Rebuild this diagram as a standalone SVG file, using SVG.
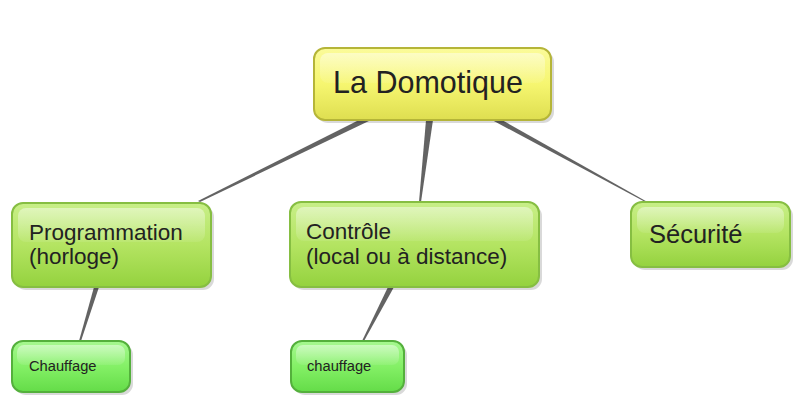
<svg xmlns="http://www.w3.org/2000/svg" width="800" height="408" viewBox="0 0 800 408">
<defs>
<linearGradient id="gy" x1="0" y1="0" x2="0" y2="1"><stop offset="0" stop-color="#fbfb9a"/><stop offset="0.5" stop-color="#f6f670"/><stop offset="1" stop-color="#dede50"/></linearGradient>
<linearGradient id="gg" x1="0" y1="0" x2="0" y2="1"><stop offset="0" stop-color="#c8ef88"/><stop offset="0.5" stop-color="#b4e462"/><stop offset="1" stop-color="#94d23e"/></linearGradient>
<linearGradient id="gb" x1="0" y1="0" x2="0" y2="1"><stop offset="0" stop-color="#a6f890"/><stop offset="0.5" stop-color="#84f066"/><stop offset="1" stop-color="#64dc48"/></linearGradient>
<linearGradient id="hl" x1="0" y1="0" x2="0" y2="1"><stop offset="0" stop-color="#fff" stop-opacity="0.45"/><stop offset="1" stop-color="#fff" stop-opacity="0.08"/></linearGradient>
</defs>
<style>
.sh{fill:#000;opacity:0.15}
.r{fill:url(#gy);stroke:#b5b538;stroke-width:2}
.g{fill:url(#gg);stroke:#86be42;stroke-width:2}
.b{fill:url(#gb);stroke:#54b03c;stroke-width:2}
.h{fill:url(#hl)}
.c{fill:#636363}
text{font-family:"Liberation Sans",Arial,sans-serif;fill:#222}
.t1{font-size:22.5px}
.t2{font-size:14.7px}
</style>
<g id="connectors">
<polygon class="c" points="359,120 371,120 200,202 198,201"/>
<polygon class="c" points="426,120 433,120 421,202 419,202"/>
<polygon class="c" points="492,120 502,120 651,204 649,204"/>
<polygon class="c" points="94,287 99,287 81,341 79,341"/>
<polygon class="c" points="388,287 394,287 364,341 362,341"/>
</g>
<g id="root">
<rect class="sh" x="317" y="51" width="237" height="72" rx="11"/>
<rect class="r" x="314" y="48" width="237" height="72" rx="11"/>
<rect class="h" x="320" y="53" width="225" height="30" rx="8"/>
<text x="428" y="93" font-size="30.5" text-anchor="middle">La Domotique</text>
</g>
<g id="programmation">
<rect class="sh" x="15" y="206" width="199" height="84" rx="11"/>
<rect class="g" x="12" y="203" width="199" height="84" rx="11"/>
<rect class="h" x="18" y="208" width="187" height="34" rx="8"/>
<text class="t1" x="29" y="239.5">Programmation</text>
<text class="t1" x="29" y="264">(horloge)</text>
</g>
<g id="controle">
<rect class="sh" x="293" y="205" width="249" height="85" rx="11"/>
<rect class="g" x="290" y="202" width="249" height="85" rx="11"/>
<rect class="h" x="296" y="207" width="237" height="34" rx="8"/>
<text class="t1" x="306" y="239">Contrôle</text>
<text class="t1" x="306" y="264">(local ou à distance)</text>
</g>
<g id="securite">
<rect class="sh" x="634" y="205" width="159" height="65" rx="11"/>
<rect class="g" x="631" y="202" width="159" height="65" rx="11"/>
<rect class="h" x="637" y="207" width="147" height="26" rx="8"/>
<text x="649" y="243" font-size="25.5">Sécurité</text>
</g>
<g id="chauffage1">
<rect class="sh" x="15" y="344" width="118" height="51" rx="11"/>
<rect class="b" x="12" y="341" width="118" height="51" rx="11"/>
<rect class="h" x="17" y="345" width="108" height="20" rx="7"/>
<text class="t2" x="29" y="371">Chauffage</text>
</g>
<g id="chauffage2">
<rect class="sh" x="294" y="344" width="113" height="51" rx="11"/>
<rect class="b" x="291" y="341" width="113" height="51" rx="11"/>
<rect class="h" x="296" y="345" width="103" height="20" rx="7"/>
<text class="t2" x="307" y="371">chauffage</text>
</g>
</svg>
